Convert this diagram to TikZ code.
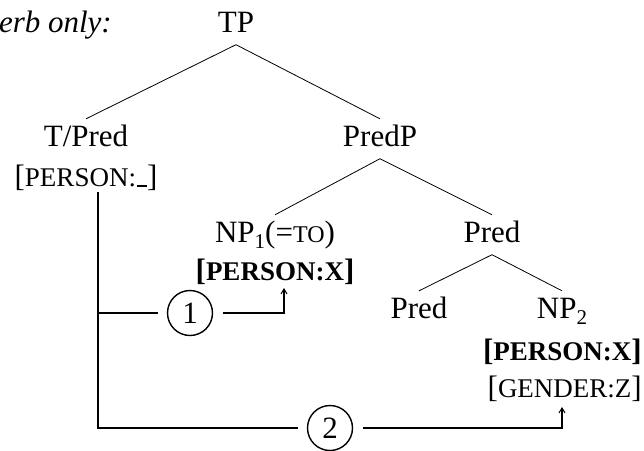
\documentclass[tikz,border=0pt]{standalone}
\usepackage{fontspec}
\setmainfont{Liberation Serif}
\usetikzlibrary{arrows.meta}
\newcommand\fsc[1]{{\fontsize{27}{32}\selectfont #1}}
\newcommand\fscs[1]{{\fontsize{24}{28}\selectfont #1}}
\newcommand\fsub[1]{\raisebox{-0.22em}{\fontsize{21}{24}\selectfont #1}}
\begin{document}
\begin{tikzpicture}[x=1pt,y=-1pt,
  every node/.style={font=\fontsize{31}{37}\selectfont},
  lab/.style={anchor=base,inner sep=6pt,text height=21pt,text depth=6.5pt},
  feat/.style={anchor=base,inner sep=0pt},
  featr/.style={anchor=base east,inner sep=0pt},
  branch/.style={line width=0.8pt},
  link/.style={line width=1.6pt},
  num/.style={circle,draw,line width=1.4pt,minimum size=45pt,inner sep=0pt,outer sep=10pt},
  tip/.style={-{Straight Barb[length=5pt,width=6pt,line width=1pt]}}]
\useasboundingbox (0,0) rectangle (644,450);
% labels
\node[anchor=base east,inner sep=0pt,font=\fontsize{31}{37}\selectfont\itshape] (hd) at (112,32) {erb only:};
\node[lab] (TP) at (236,32) {TP};
\node[lab] (TPred) at (86,146) {T/Pred};
\node[feat] (f0) at (86,186) {[\fsc{PERSON:}\kern1pt\rule[-1pt]{10pt}{1.6pt}]};
\node[lab] (PredP) at (380,146) {PredP};
\node[lab] (NP1) at (275,242) {NP\fsub{1}(=\fscs{TO})};
\node[feat] (f1) at (275,280) {\bfseries[\fsc{PERSON:X}]};
\node[lab] (Pred1) at (492,242) {Pred};
\node[lab] (Pred2) at (419,318) {Pred};
\node[lab] (NP2) at (562,318) {NP\fsub{2}};
\node[featr] (f2) at (642,360) {\bfseries[\fsc{PERSON:X}]};
\node[featr] (f3) at (642,397) {[\fsc{GENDER:Z}]};
% tree
\draw[branch] (TP.south) -- (TPred.north);
\draw[branch] (TP.south) -- (PredP.north);
\draw[branch] (PredP.south) -- (NP1.north);
\draw[branch] (PredP.south) -- (Pred1.north);
\draw[branch] (Pred1.south) -- (Pred2.north);
\draw[branch] (Pred1.south) -- (NP2.north);
% agreement links
\node[num] (c1) at (190,313) {1};
\node[num] (c2) at (330,428) {2};
\coordinate (v0) at (98,192);
\coordinate (v1) at (98,313);
\coordinate (v2) at (98,428);
\coordinate (a1) at (284,288);
\coordinate (a2) at (562,407);
\draw[link] (v0) -- (v2) -- (c2);
\draw[link] (v1) -- (c1);
\draw[link,tip] (c1) -| (a1);
\draw[link,tip] (c2) -| (a2);
\end{tikzpicture}
\end{document}
